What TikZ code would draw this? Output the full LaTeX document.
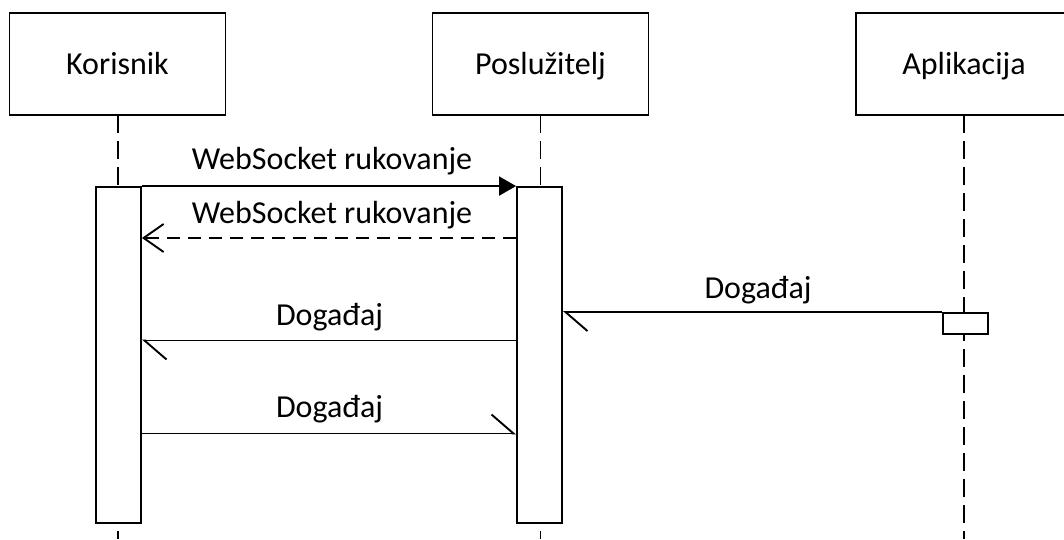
\documentclass[tikz,border=0pt]{standalone}
\usepackage{fontspec}
\setmainfont{Carlito}
\usetikzlibrary{arrows.meta}
\begin{document}
\begin{tikzpicture}[x=1pt,y=-1pt,
  every node/.style={font=\fontsize{32}{38}\selectfont},
  actor/.style={draw,line width=1.9pt,fill=white,minimum width=216pt,minimum height=102pt,
    inner sep=0pt,text height=20pt,text depth=0pt},
  bar/.style={draw,line width=1.9pt,fill=white,minimum width=45pt,inner sep=0pt},
  lifeline/.style={line width=1.9pt,dash pattern=on 18pt off 8pt},
  msg/.style={line width=1.9pt},
  call/.style={msg,-{Triangle[length=17pt,width=19pt]}},
  reply/.style={msg,dash pattern=on 13pt off 8pt,-{Straight Barb[length=20pt,width=28pt]}},
  async/.style={msg,-{Straight Barb[length=22pt,width=38pt,harpoon]}},
  lbl/.style={anchor=base,inner sep=0pt}]
\useasboundingbox (0,0) rectangle (1064,539);

% lifelines (drawn first, bars and boxes cover them)
\draw[lifeline] (118,115) -- (118,539);
\draw[lifeline] (540.5,115) -- (540.5,539);
\draw[lifeline] (964,115) -- (964,539);

% participants
\node[actor] (kor) at (117.5,64) {Korisnik};
\node[actor] (pos) at (540.5,64) {Poslužitelj};
\node[actor] (apl) at (964,64) {Aplikacija};

% activation bars
\node[bar,minimum height=336pt] (kbar) at (118.5,355) {};
\node[bar,minimum height=336pt] (pbar) at (539.5,355) {};
\node[bar,minimum height=21pt] (abar) at (965.5,323.5) {};

% message rows
\coordinate (r2) at (0,238);
\coordinate (r4) at (0,340.5);
\coordinate (r5) at (0,433.5);

\draw[call] (kbar.north east) -- (pbar.north west);
\draw[reply] (pbar.west |- r2) -- (kbar.east |- r2);
\draw[async] (abar.north west) -- (pbar.east |- abar.north);
\draw[async] (pbar.west |- r4) -- (kbar.east |- r4);
\draw[async] (kbar.east |- r5) -- (pbar.west |- r5);

% message labels
\node[lbl] (l1) at (332,169) {WebSocket rukovanje};
\node[lbl] (l2) at (332,223) {WebSocket rukovanje};
\node[lbl] (l3) at (758,298) {Događaj};
\node[lbl] (l4) at (329.5,325) {Događaj};
\node[lbl] (l5) at (329.5,417) {Događaj};
\end{tikzpicture}
\end{document}
